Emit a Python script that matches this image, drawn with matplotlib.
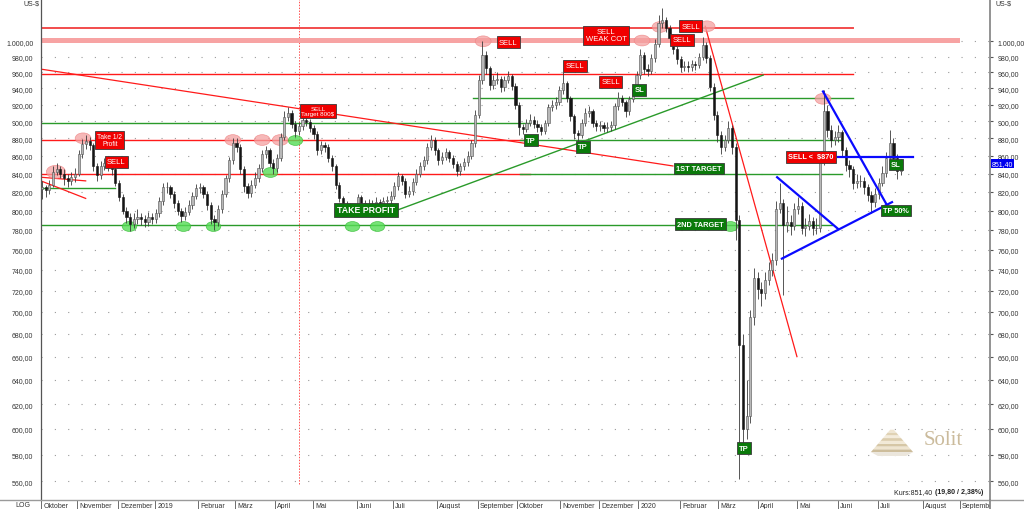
import numpy as np
import matplotlib.pyplot as plt
from matplotlib.path import Path
from matplotlib.transforms import Affine2D, Bbox, TransformedBbox
from matplotlib.lines import Line2D
from matplotlib.patches import Polygon
from matplotlib.ticker import FixedLocator, NullLocator, FuncFormatter

plt.rcParams['font.family'] = ['Liberation Sans', 'DejaVu Sans']

# Platin, Kerzen je 2 Handelstage (Okt 2018 - Jul 2020)
closes = [825, 822, 828, 842, 845, 840, 835, 832, 836, 840,
          862, 873, 877, 872, 848, 838, 849, 852, 849, 845,
          830, 814, 800, 793, 786, 791, 793, 791, 788, 793,
          791, 797, 810, 825, 825, 818, 808, 800, 794, 799,
          806, 816, 824, 825, 818, 806, 791, 788, 802, 818,
          835, 855, 874, 870, 845, 826, 819, 828, 835, 846,
          862, 866, 852, 846, 858, 882, 905, 910, 897, 888,
          894, 902, 899, 892, 885, 866, 872, 870, 858, 848,
          828, 813, 805, 804, 803, 802, 814, 808, 805, 807,
          806, 809, 807, 810, 811, 816, 826, 837, 832, 818,
          821, 831, 840, 848, 855, 870, 878, 866, 855, 859,
          864, 858, 851, 843, 848, 853, 860, 874, 908, 950,
          982, 965, 944, 950, 952, 941, 950, 955, 943, 920,
          893, 891, 898, 901, 897, 893, 889, 898, 917, 920,
          923, 938, 946, 928, 906, 886, 884, 898, 910, 912,
          898, 894, 896, 892, 893, 895, 918, 928, 923, 912,
          927, 940, 956, 982, 964, 962, 978, 997, 1025, 1028,
          1018, 1005, 990, 977, 967, 968, 967, 970, 969, 980,
          995, 978, 942, 908, 884, 870, 878, 892, 870, 790,
          670, 600, 610, 695, 732, 722, 718, 730, 740, 750,
          802, 808, 785, 788, 784, 802, 805, 782, 784, 789,
          782, 782, 855, 912, 890, 878, 881, 887, 866, 850,
          845, 830, 832, 832, 825, 817, 809, 818, 830, 841,
          858, 875, 858, 843, 851.4]
highs = [832, 828, 833, 848, 852, 849, 845, 840, 842, 846,
         866, 879, 884, 881, 875, 852, 854, 858, 857, 853,
         848, 833, 818, 804, 797, 798, 802, 797, 795, 799,
         797, 802, 814, 830, 831, 828, 821, 811, 803, 804,
         811, 820, 829, 830, 828, 821, 809, 795, 806, 822,
         839, 859, 880, 880, 873, 848, 830, 833, 842, 851,
         866, 871, 869, 856, 862, 886, 912, 917, 913, 900,
         899, 907, 908, 903, 896, 888, 877, 876, 873, 861,
         851, 831, 816, 810, 808, 807, 818, 817, 811, 812,
         811, 814, 812, 815, 816, 821, 831, 842, 840, 835,
         826, 835, 845, 853, 860, 875, 884, 881, 869, 864,
         869, 867, 861, 854, 852, 857, 865, 878, 913, 956,
         1001, 987, 968, 956, 960, 955, 955, 962, 958, 946,
         923, 897, 903, 909, 906, 901, 897, 902, 921, 926,
         929, 943, 960, 949, 931, 909, 890, 903, 916, 918,
         915, 901, 900, 899, 899, 900, 922, 935, 932, 926,
         931, 945, 961, 990, 986, 970, 983, 1003, 1035, 1045,
         1033, 1022, 1009, 994, 981, 975, 974, 976, 975, 985,
         1006, 999, 982, 946, 912, 888, 884, 900, 896, 874,
         795, 680, 640, 702, 742, 738, 728, 738, 748, 757,
         810, 830, 812, 805, 795, 808, 815, 809, 792, 796,
         793, 792, 860, 938, 920, 895, 888, 895, 890, 870,
         855, 849, 840, 838, 836, 829, 821, 824, 835, 848,
         864, 890, 880, 862, 856]
lows = [812, 815, 818, 825, 838, 835, 828, 825, 828, 831,
        837, 858, 868, 866, 843, 832, 834, 844, 843, 839,
        826, 810, 796, 787, 779, 782, 786, 785, 783, 784,
        786, 787, 793, 806, 819, 813, 803, 795, 788, 790,
        795, 802, 812, 819, 813, 801, 786, 780, 784, 798,
        814, 831, 851, 864, 840, 820, 813, 815, 824, 831,
        842, 857, 847, 840, 842, 854, 878, 900, 892, 882,
        884, 890, 894, 887, 879, 861, 862, 864, 853, 843,
        823, 809, 800, 799, 798, 797, 798, 803, 800, 801,
        801, 802, 802, 803, 806, 807, 812, 822, 827, 813,
        814, 817, 827, 836, 844, 851, 866, 861, 850, 851,
        855, 853, 846, 837, 839, 844, 849, 856, 870, 904,
        945, 958, 938, 939, 945, 935, 936, 946, 938, 915,
        884, 885, 887, 894, 892, 887, 884, 885, 894, 912,
        915, 919, 933, 923, 900, 879, 877, 880, 894, 905,
        893, 888, 888, 887, 887, 888, 891, 914, 918, 905,
        908, 923, 936, 951, 958, 955, 958, 973, 992, 1018,
        1012, 998, 984, 970, 960, 961, 960, 962, 963, 965,
        976, 972, 936, 902, 876, 862, 865, 874, 862, 770,
        562, 588, 592, 605, 688, 712, 706, 712, 725, 734,
        745, 798, 716, 778, 775, 780, 796, 776, 774, 780,
        775, 776, 778, 850, 882, 870, 872, 876, 860, 843,
        836, 823, 824, 825, 818, 810, 797, 804, 812, 826,
        836, 853, 852, 834, 838]
first_open = 823

month_labels = ['Oktober', 'November', 'Dezember', '2019', 'Februar', 'März', 'April',
                'Mai', 'Juni', 'Juli', 'August', 'September', 'Oktober', 'November',
                'Dezember', '2020', 'Februar', 'März', 'April', 'Mai', 'Juni', 'Juli',
                'August', 'September']
month_pos = [-0.2, 9.5, 20.7, 30.8, 42.5, 52.6, 63.5, 73.8, 85.8, 95.6, 107.6, 118.8,
             129.4, 141.1, 151.8, 162.4, 173.8, 184.2, 195.1, 205.7, 216.9, 227.8,
             240.0, 250.1]
yticks = list(range(560, 1001, 20))

# horizontale Marken: (Kurs, von, bis)
red_levels = [(1018, -0.3, 221), (958, -0.3, 221), (878, -0.3, 131.6), (840, -0.3, 133)]
green_levels = [(928, 117.4, 221), (898, -0.3, 133), (878, 130.2, 218), (840, 130.2, 218),
                (785, -0.3, 215.3), (824, -0.3, 19.9)]

# Trendlinien: ((x0, y0), (x1, y1))
red_trends = [((-0.3, 964), (171.9, 848.5)), ((-0.3, 836), (11.9, 832)),
              ((-0.3, 832), (11.9, 813)), ((180.7, 1020), (205.7, 660))]
green_trends = [((95.7, 799), (196.5, 956.5))]
blue_trends = [((200.3, 836), (216.9, 781)), ((201.6, 751), (231.6, 809)),
               ((212.8, 936), (230.2, 806)), ((216.9, 858.6), (237.3, 858.6))]

pink_x = [3.8, 11.2, 52.0, 60.0, 64.9, 120.2, 163.5, 168.4, 181.2, 212.8]
pink_y = [842, 880, 878, 878, 878, 1000, 1001, 1019, 1020, 927]
green_x = [62.1, 68.9, 23.7, 38.4, 46.6, 84.6, 91.3, 187.5]
green_y = [842, 878, 784, 784, 784, 784, 784, 784]

# Text-Marken: (x, Kurs, Text, Farbe, Größe)
tags = [
    (18.5, 878, 'Take 1/2\nProfit', 'r', 4.8),
    (20.2, 853, 'SELL', 'r', 5.5),
    (75.2, 912, 'SELL\nTarget 800$', 'r', 4.5),
    (88.3, 801, 'TAKE PROFIT', 'g', 6.3),
    (127.0, 999, 'SELL', 'r', 5.5),
    (133.2, 878, 'TP', 'g', 5.5),
    (153.7, 1008, 'SELL\nWEAK COT', 'r', 5.5),
    (145.2, 968, 'SELL', 'r', 5.5),
    (155.0, 948, 'SELL', 'r', 5.5),
    (162.7, 938, 'SL', 'g', 5.5),
    (147.4, 870, 'TP', 'g', 5.5),
    (176.8, 1020, 'SELL', 'r', 5.5),
    (174.4, 1002, 'SELL', 'r', 5.5),
    (179.0, 846, '1ST TARGET', 'g', 5.3),
    (179.3, 786, '2ND TARGET', 'g', 5.3),
    (209.5, 858.6, 'SELL <  $870', 'r', 5.3),
    (232.7, 850, 'SL', 'g', 5.5),
    (232.7, 800, 'TP 50%', 'g', 5.3),
    (191.3, 585, 'TP', 'g', 5.5),
]

W, H = 1024, 510
fig = plt.figure(figsize=(W / 100, H / 100), dpi=100)
ax = fig.add_axes([41 / W, 9 / H, 949 / W, 501 / H])
ax.set_yscale('log')
ax.set_ylim(546.4, 1057.3)
ax.set_xlim(-0.27, 258.3)

ax.yaxis.set_major_locator(FixedLocator(yticks))
ax.yaxis.set_minor_locator(NullLocator())


def de_fmt(v, pos=None):
    s = f'{v:,.2f}'
    return s.replace(',', 'X').replace('.', ',').replace('X', '.')


ax.yaxis.set_major_formatter(FuncFormatter(de_fmt))
ax.yaxis.set_minor_formatter(FuncFormatter(lambda v, p: ''))
ax.tick_params(axis='y', which='major', left=False, right=True, labelleft=True,
               labelright=True, labelsize=5, labelcolor='#333333', direction='out',
               length=2.5, width=0.8, color='#555555', pad=3)
ax.grid(axis='y', which='major', color='#9a9a9a', linestyle=(0, (1, 11)), linewidth=0.8)

ax.set_xticks(month_pos)
ax.tick_params(axis='x', direction='out', length=6.5, width=0.6, color='#555555',
               labelbottom=False)
for s in ['top', 'bottom']:
    ax.spines[s].set_visible(False)
ax.spines['left'].set_color('#555555')
ax.spines['left'].set_linewidth(0.9)
ax.spines['right'].set_color('#8a8a8a')
ax.spines['right'].set_linewidth(1.3)

clip = TransformedBbox(Bbox([[0, -0.1], [1, 1]]), ax.transAxes)
for lbl, p in zip(month_labels, month_pos):
    a = ax.annotate(lbl, xy=(p, 0), xycoords=('data', 'axes fraction'), xytext=(1.5, -1.2),
                    textcoords='offset points', ha='left', va='top', fontsize=5,
                    color='#333333', annotation_clip=False)
    a.set_clip_on(True)
    a.set_clip_box(clip)

# Linien
for y, x0, x1 in red_levels:
    lw = 1.4 if y > 1000 else 1.0
    col = '#f24c4c' if y > 1000 else '#ff1a1a'
    ax.plot([x0, x1], [y, y], color=col, lw=lw, zorder=2)
ax.plot([-0.3, 249.3], [1002, 1002], color='#f7a3a3', lw=3.6, zorder=2)
for y, x0, x1 in green_levels:
    ax.plot([x0, x1], [y, y], color='#2a9a2a', lw=1.0, zorder=2)
for (x0, y0), (x1, y1) in red_trends:
    ax.plot([x0, x1], [y0, y1], color='#ff1a1a', lw=0.9, zorder=2)
for (x0, y0), (x1, y1) in green_trends:
    ax.plot([x0, x1], [y0, y1], color='#2a9a2a', lw=1.0, zorder=2)
for (x0, y0), (x1, y1) in blue_trends:
    ax.plot([x0, x1], [y0, y1], color='#0a0aff', lw=1.6, zorder=6)
ax.plot([70, 70], [558, 1057.3], color='#ff5050', lw=0.7, ls=(0, (1.5, 1.5)), zorder=1)

# Kreise
ell = Path.unit_circle().transformed(Affine2D().scale(1, 0.68))
ax.scatter(pink_x, pink_y, s=[190] + [130] * (len(pink_x) - 1), marker=ell, c='#f4a0a0',
           alpha=0.75, edgecolors='#ee8080', linewidths=0.5, zorder=3)
ax.scatter(green_x, green_y, s=110, marker=ell, c='#55dd55', alpha=0.8,
           edgecolors='#33bb33', linewidths=0.5, zorder=3)

# Kerzen
c = np.array(closes, dtype=float)
o = np.array([first_open] + closes[:-1], dtype=float)
x = np.arange(len(c))
up = c >= o
ax.vlines(x, lows, highs, color='#3a3a3a', lw=0.6, zorder=4)
ax.bar(x[up], (c - o)[up], bottom=o[up], width=0.6, color='#b8b8b8', edgecolor='#505050',
       linewidth=0.4, zorder=5)
ax.bar(x[~up], (o - c)[~up], bottom=c[~up], width=0.6, color='#151515',
       edgecolor='#151515', linewidth=0.4, zorder=5)

# Beschriftungen
for tx, ty, txt, col, fs in tags:
    fc = '#f00000' if col == 'r' else '#0a7a0a'
    bold = col == 'g' or '870' in txt
    ax.text(tx, ty, txt, ha='center', va='center', color='white', fontsize=fs,
            fontweight='bold' if bold else 'normal', linespacing=1.0, zorder=8,
            bbox=dict(boxstyle='square,pad=0.3', fc=fc, ec='#3a3a3a', lw=0.6))

ax.text(1.002, closes[-1], de_fmt(closes[-1]), transform=ax.get_yaxis_transform(),
        ha='left', va='center', fontsize=5, color='white', zorder=10, clip_on=False,
        bbox=dict(boxstyle='square,pad=0.15', fc='#0000ee', ec='none'))

k2 = ax.text(0.9926, 0.01, '(19,80 / 2,38%)', transform=ax.transAxes, ha='right',
             va='bottom', fontsize=5, fontweight='bold', color='#222222')
ax.annotate('Kurs:851,40 ', xy=(0, 0), xycoords=k2, ha='right', va='bottom',
            fontsize=5, color='#222222')

# Logo
lax = fig.add_axes([870 / W, (H - 457) / H, 44 / W, 28 / H])
lax.set_xlim(0, 1)
lax.set_ylim(0, 1)
lax.axis('off')
n = 8
cols = ['#cdbd9b', '#efe5d0', '#d6c7a6', '#f2e9d6', '#dccdad', '#f4ecdc', '#e0d2b4',
        '#f0e6d2']
for i in range(n):
    y0 = 0.14 + i * 0.8 / n
    y1 = y0 + 0.8 / n
    w0 = 0.48 - i * 0.055
    w1 = 0.48 - (i + 1) * 0.055
    lax.add_patch(Polygon([[0.5 - w0, y0], [0.5 + w0, y0], [0.5 + w1, y1], [0.5 - w1, y1]],
                          closed=True, fc=cols[i], ec='none'))
lax.add_patch(Polygon([[0.02, 0.14], [0.98, 0.14], [0.82, 0.0], [0.18, 0.0]],
                      closed=True, fc='#ebe6dc', ec='none'))
fig.text(924 / W, (H - 441) / H, 'Solit', fontfamily='Liberation Serif', fontsize=15,
         color='#cbbb9c', va='center', ha='left')

fig.text(23 / W, 1 - 4 / H, 'US-$', fontsize=5, va='center', color='#333333')
fig.text(995 / W, 1 - 4 / H, 'US-$', fontsize=5, va='center', color='#333333')
fig.text(15 / W, 4 / H, 'LOG', fontsize=5, va='center', color='#333333')
fig.add_artist(Line2D([0, 1], [9 / H, 9 / H], color='#9a9a9a', lw=1.0))
fig.add_artist(Line2D([990 / W, 990 / W], [0, 9 / H], color='#8a8a8a', lw=1.3))

fig.savefig('out.png', dpi=100)
